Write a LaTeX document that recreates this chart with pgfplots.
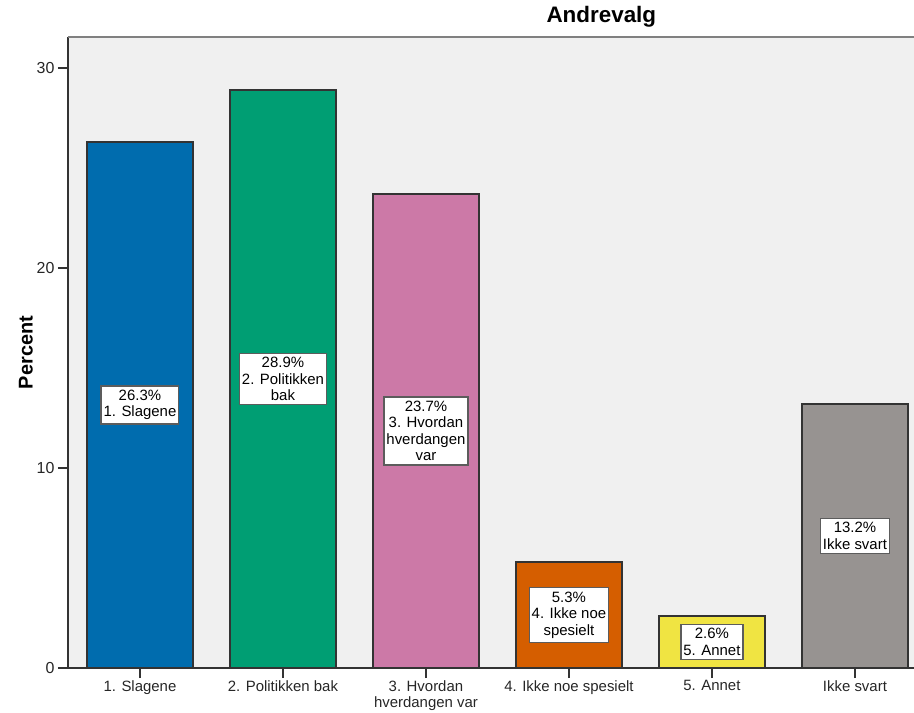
\documentclass[border=0pt]{standalone}
\usepackage{pgfplots}
\pgfplotsset{compat=1.18}
\usepackage{fontspec}
\setmainfont{Liberation Sans}
\definecolor{bgc}{HTML}{F0F0F0}
\definecolor{edge}{HTML}{333333}
\definecolor{c1}{HTML}{006CAE}
\definecolor{c2}{HTML}{009E73}
\definecolor{c3}{HTML}{CC79A7}
\definecolor{c4}{HTML}{D55E00}
\definecolor{c5}{HTML}{F0E442}
\definecolor{c6}{HTML}{979391}
\pgfplotsset{
  halflabel/.style={
    bar shift=0pt,
    draw=edge, line width=1.4bp,
    nodes near coords={#1},
    visualization depends on=y \as \rawy,
    every node near coord/.append style={
      shift={(axis direction cs:0,-\rawy/2)}, anchor=center,
      fill=white, draw=edge!80, line width=1.2bp, align=center,
      inner xsep=2.5bp, inner ysep=4bp,
      font=\fontsize{15}{16.5}\selectfont, text=black},
  }
}
\begin{document}
\begin{tikzpicture}
\begin{axis}[
  name=ax,
  scale only axis, width=852bp, height=631bp,
  xmin=-0.503, xmax=5.455, ymin=0, ymax=31.55,
  ybar, bar width=0.741,
  axis background/.style={fill=bgc},
  axis x line*=bottom, axis y line*=left,
  axis line style={draw=edge, line width=1.5bp, -},
  xtick={0,1,2,3,4,5},
  xticklabels={1. Slagene, 2. Politikken bak, {3. Hvordan\\hverdangen var}, 4. Ikke noe spesielt, 5. Annet, Ikke svart},
  ytick={0,10,20,30},
  tick align=outside, major tick length=10bp,
  major tick style={draw=edge, line width=1.2bp},
  xticklabel style={align=center, font=\fontsize{15}{16}\selectfont, text=black!85, yshift=1bp},
  yticklabel style={font=\fontsize{16}{17}\selectfont, text=black!85},
  /pgf/number format/assume math mode=true,
  ylabel={\textbf{Percent}},
  ylabel style={font=\fontsize{20}{22}\selectfont, xshift=0bp, yshift=-3bp},
  title={\textbf{Andrevalg}},
  title style={at={(0.626,1)}, anchor=south, inner sep=0pt, yshift=4bp, font=\fontsize{22.5}{24}\selectfont},
  after end axis/.code={\draw[draw=black!50, line width=1.5bp] (rel axis cs:0,1) -- (rel axis cs:1,1);},
]
\addplot[fill=c1, halflabel={26.3\%\\1. Slagene}] coordinates {(0,26.3)};
\addplot[fill=c2, halflabel={28.9\%\\2. Politikken\\bak}] coordinates {(1,28.9)};
\addplot[fill=c3, halflabel={23.7\%\\3. Hvordan\\hverdangen\\var}] coordinates {(2,23.7)};
\addplot[fill=c4, halflabel={5.3\%\\4. Ikke noe\\spesielt}] coordinates {(3,5.3)};
\addplot[fill=c5, halflabel={2.6\%\\5. Annet}] coordinates {(4,2.6)};
\addplot[fill=c6, halflabel={13.2\%\\Ikke svart}] coordinates {(5,13.2)};
\end{axis}
\pgfresetboundingbox
\path ([shift={(-68bp,-45bp)}]ax.south west) rectangle ([shift={(846bp,668bp)}]ax.south west);
\end{tikzpicture}
\end{document}
